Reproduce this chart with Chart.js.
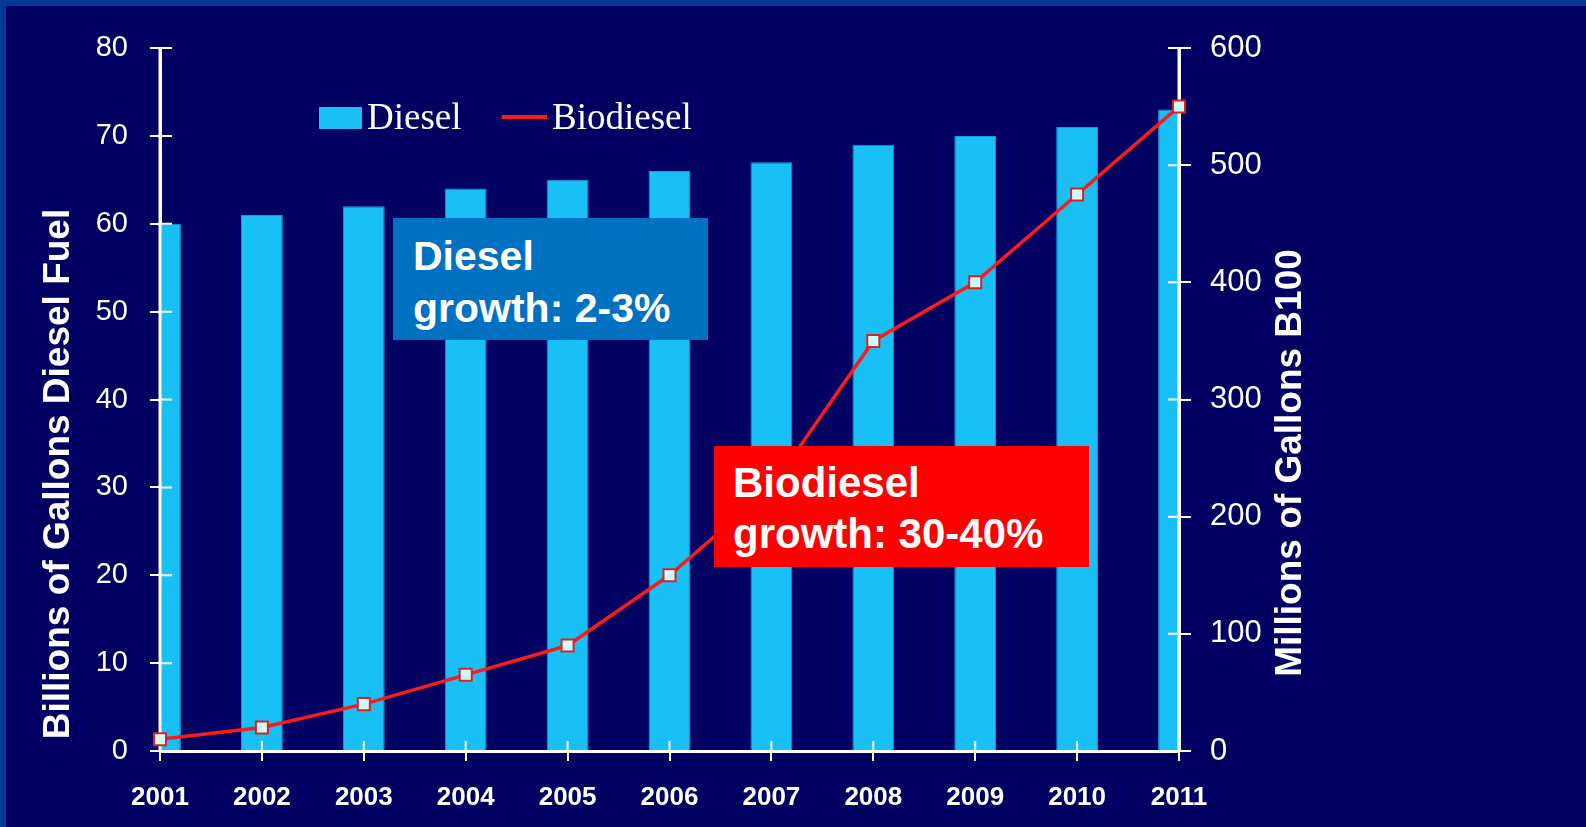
<!DOCTYPE html>
<html>
<head>
<meta charset="utf-8">
<script src="https://cdn.jsdelivr.net/npm/chart.js@4"></script>
<style>
  html, body { margin:0; padding:0; background:#000063; }
  #wrap { position:relative; width:1586px; height:827px; overflow:hidden; background:#000063; }
  #bt { position:absolute; left:0; top:0; width:1586px; height:6px; background:#003896; }
  #bl { position:absolute; left:0; top:0; width:6px; height:827px; background:#003896; }
  #c { position:absolute; left:0; top:0; }
  .leg { position:absolute; color:#fff; font-family:"Liberation Serif","DejaVu Serif",serif; font-size:37px; line-height:37px; white-space:nowrap; }
  .box { position:absolute; color:#fff; font-family:"Liberation Sans",Arial,sans-serif; font-weight:bold; white-space:nowrap; box-sizing:border-box; }
</style>
</head>
<body>
<div id="wrap">
  <div id="bt"></div><div id="bl"></div>
  <canvas id="c" width="1586" height="827"></canvas>
  <div style="position:absolute;left:319px;top:107px;width:43px;height:22px;background:#19C0F8;"></div>
  <div class="leg" style="left:367px;top:98px;">Diesel</div>
  <div style="position:absolute;left:502px;top:115px;width:45px;height:4px;background:#FF1A1A;"></div>
  <div class="leg" style="left:552px;top:98px;">Biodiesel</div>
  <div class="box" style="left:393px;top:218px;width:315px;height:122px;background:#0070C0;padding:12px 0 0 20px;font-size:41px;line-height:52px;">Diesel<br>growth: 2-3%</div>
  <div class="box" style="left:714px;top:446px;width:375px;height:121px;background:#FF0000;padding:11px 0 0 19px;font-size:42px;line-height:51px;">Biodiesel<br>growth: 30-40%</div>
</div>
<script>
const years = ['2001','2002','2003','2004','2005','2006','2007','2008','2009','2010','2011'];
const dieselBillions = [60, 61, 62, 64, 65, 66, 67, 69, 70, 71, 73];
const biodieselMillions = [10, 20, 40, 65, 90, 150, 225, 350, 400, 475, 550];
const leftAxisTitle = 'Billions of Gallons Diesel Fuel';
const rightAxisTitle = 'Millions of Gallons B100';

const sans = '"Liberation Sans Narrow","Liberation Sans",Arial,sans-serif';

const decor = {
  id: 'decor',
  afterDatasetDraw(chart, args) {
    if (args.index !== 0) return;
    const ctx = chart.ctx;
    const x = chart.scales.x, y = chart.scales.y, y1 = chart.scales.y1;
    const ca = chart.chartArea;
    ctx.save();
    ctx.strokeStyle = '#ffffff';
    ctx.lineWidth = 3;
    ctx.beginPath();
    ctx.moveTo(ca.left, ca.top); ctx.lineTo(ca.left, ca.bottom);
    ctx.moveTo(ca.right, ca.top); ctx.lineTo(ca.right, ca.bottom);
    ctx.stroke();
    ctx.lineWidth = 2;
    ctx.beginPath();
    y.ticks.forEach(t => { const p = y.getPixelForValue(t.value); ctx.moveTo(ca.left, p); ctx.lineTo(ca.left + 12, p); });
    y1.ticks.forEach(t => { const p = y1.getPixelForValue(t.value); ctx.moveTo(ca.right, p); ctx.lineTo(ca.right - 11, p); });
    years.forEach((yr, i) => { const p = x.getPixelForValue(i); ctx.moveTo(p, ca.bottom); ctx.lineTo(p, ca.bottom - 10); });
    ctx.stroke();
    ctx.restore();
  },
  afterDraw(chart) {
    const ctx = chart.ctx;
    [[leftAxisTitle, 59, 474], [rightAxisTitle, 1291, 463]].forEach(([txt, cx, cy]) => {
      ctx.save();
      ctx.fillStyle = '#ffffff';
      ctx.font = 'bold 37px "Liberation Sans", Arial, sans-serif';
      ctx.textAlign = 'center';
      ctx.textBaseline = 'middle';
      ctx.translate(cx, cy);
      ctx.rotate(-Math.PI / 2);
      ctx.fillText(txt, 0, 0);
      ctx.restore();
    });
  }
};

new Chart(document.getElementById('c'), {
  data: {
    labels: years,
    datasets: [
      {
        type: 'bar',
        label: 'Diesel',
        data: dieselBillions,
        yAxisID: 'y',
        backgroundColor: '#19C0F8',
        borderColor: '#159BD6',
        borderWidth: 1,
        categoryPercentage: 1,
        barPercentage: 0.41,
        clip: 0,
        order: 1
      },
      {
        type: 'line',
        label: 'Biodiesel',
        data: biodieselMillions,
        yAxisID: 'y1',
        borderColor: '#FF1A1A',
        borderWidth: 3.5,
        tension: 0,
        pointStyle: 'rect',
        pointRadius: 8.5,
        pointBackgroundColor: '#CCFFFF',
        pointBorderColor: '#E02020',
        pointBorderWidth: 2,
        clip: false,
        order: 0
      }
    ]
  },
  options: {
    responsive: false,
    animation: false,
    devicePixelRatio: 1,
    layout: { padding: { top: 48, left: 0, right: 0, bottom: 0 } },
    plugins: { legend: { display: false }, tooltip: { enabled: false } },
    scales: {
      x: {
        type: 'category',
        offset: false,
        afterFit: s => { s.height = 76; },
        grid: { offset: false, drawOnChartArea: false, drawTicks: true, tickLength: 10, color: '#ffffff', lineWidth: 2 },
        border: { color: '#ffffff', width: 3 },
        ticks: { color: '#ffffff', font: { family: sans, size: 26, weight: 'bold' }, padding: 21, maxRotation: 0, autoSkip: false }
      },
      y: {
        position: 'left',
        min: 0, max: 80,
        afterFit: s => { s.width = 160; },
        grid: { drawOnChartArea: false, drawTicks: true, tickLength: 10, color: '#ffffff', lineWidth: 2 },
        border: { color: '#ffffff', width: 3 },
        ticks: { stepSize: 10, color: '#ffffff', font: { family: sans, size: 29 }, padding: 22 }
      },
      y1: {
        position: 'right',
        min: 0, max: 600,
        afterFit: s => { s.width = 407; },
        grid: { drawOnChartArea: false, drawTicks: true, tickLength: 12, color: '#ffffff', lineWidth: 2 },
        border: { color: '#ffffff', width: 3 },
        ticks: { stepSize: 100, color: '#ffffff', font: { family: sans, size: 31 }, padding: 19 }
      }
    }
  },
  plugins: [decor]
});
</script>
</body>
</html>
